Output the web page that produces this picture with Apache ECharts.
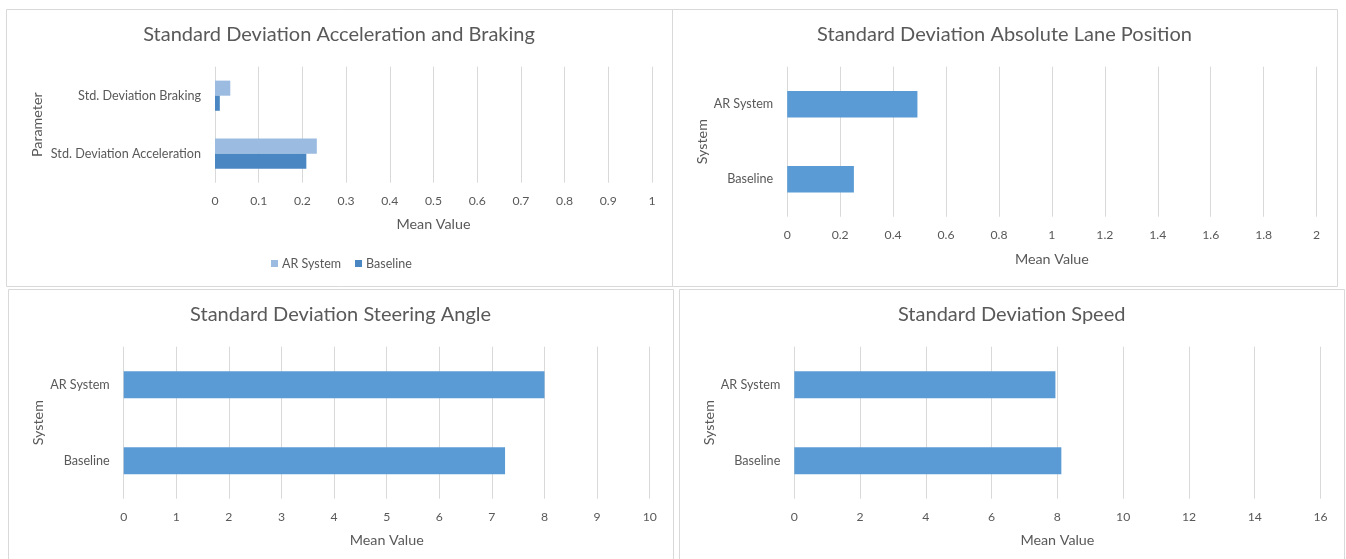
<!DOCTYPE html>
<html>
<head>
<meta charset="utf-8">
<title>Driving performance – standard deviations</title>
<script src="https://cdn.jsdelivr.net/npm/echarts@6/dist/echarts.min.js"></script>
<style>
  html, body { margin: 0; padding: 0; background: #ffffff; }
  #chart { width: 1346px; height: 559px; }
</style>
</head>
<body>
<div id="chart"></div>
<script>
// ---- data ----
const accelCategories = ['Std. Deviation Acceleration', 'Std. Deviation Braking'];
const accelAR = [0.233, 0.035];
const accelBaseline = [0.209, 0.011];

const systemCategories = ['Baseline', 'AR System'];
const lanePosition = [0.252, 0.492];
const steeringAngle = [7.25, 8.0];
const speedDeviation = [8.12, 7.94];

const seriesNames = ['AR System', 'Baseline'];

// ---- styling ----
const FONT = 'Lato, "Liberation Sans", sans-serif';
const TEXT = '#595959';
const LINE = '#d9d9d9';
const BLUE = '#5b9bd5';
const LIGHT_BLUE = '#9bbbe1';
const DARK_BLUE = '#4a86c1';

const chart = echarts.init(document.getElementById('chart'), null, { renderer: 'canvas' });

// panel frames: [x, y, w, h]
const panels = [
  [6.5, 9.5, 666, 277],
  [672.5, 9.5, 665, 277],
  [8.5, 289.5, 665, 300],
  [679.5, 289.5, 665, 300]
];

// plot areas: [left, top, width, height]
const grids = [
  [215, 66.7, 437, 116],
  [787.2, 66.7, 529.4, 150],
  [123.7, 346.7, 526, 152],
  [794.3, 346.7, 526.2, 152]
];

const titles = [
  ['Standard Deviation Acceleration and Braking', 339, 25],
  ['Standard Deviation Absolute Lane Position', 1004.5, 25],
  ['Standard Deviation Steering Angle', 340.6, 305],
  ['Standard Deviation Speed', 1011.7, 305]
];

// value axis ranges: [max, interval]
const ranges = [[1, 0.1], [2, 0.2], [10, 1], [16, 2]];
const xNameGaps = [34.5, 35.5, 34.5, 34.5];
const yNames = ['Parameter', 'System', 'System', 'System'];
const yNameGaps = [171, 78, 78, 78];
const yCats = [accelCategories, systemCategories, systemCategories, systemCategories];

const option = {
  animation: false,
  backgroundColor: '#ffffff',
  textStyle: { fontFamily: FONT, color: TEXT },
  graphic: panels.map(p => ({
    type: 'rect',
    silent: true,
    shape: { x: p[0], y: p[1], width: p[2], height: p[3] },
    style: { fill: 'none', stroke: LINE, lineWidth: 1 }
  })),
  title: titles.map(t => ({
    text: t[0],
    left: t[1],
    top: t[2],
    textAlign: 'center',
    padding: 0,
    textStyle: { fontFamily: FONT, fontSize: 20, fontWeight: 'normal', color: TEXT }
  })),
  legend: {
    data: seriesNames,
    left: 271,
    top: 257,
    padding: 0,
    itemWidth: 7,
    itemHeight: 7,
    itemGap: 14,
    icon: 'rect',
    textStyle: { fontFamily: FONT, fontSize: 12.5, color: TEXT, padding: [0, 0, 0, -1] }
  },
  grid: grids.map(g => ({ left: g[0], top: g[1], width: g[2], height: g[3], containLabel: false })),
  xAxis: ranges.map((r, i) => ({
    type: 'value',
    gridIndex: i,
    min: 0,
    max: r[0],
    interval: r[1],
    name: 'Mean Value',
    nameLocation: 'middle',
    nameGap: xNameGaps[i],
    nameTextStyle: { fontFamily: FONT, fontSize: 14.3, color: TEXT },
    axisLine: { show: false },
    axisTick: { show: false },
    axisLabel: { fontFamily: FONT, fontSize: 12.2, color: TEXT, margin: 12 },
    splitLine: { show: true, lineStyle: { color: LINE, width: 1 } }
  })),
  yAxis: yCats.map((cats, i) => ({
    type: 'category',
    gridIndex: i,
    data: cats,
    name: yNames[i],
    nameLocation: 'middle',
    nameGap: yNameGaps[i],
    nameRotate: 90,
    nameTextStyle: { fontFamily: FONT, fontSize: 14.3, color: TEXT },
    axisLine: { show: false },
    axisTick: { show: false },
    axisLabel: { fontFamily: FONT, fontSize: 12.6, color: TEXT, margin: 14 },
    splitLine: { show: false }
  })),
  series: [
    {
      name: seriesNames[0], type: 'bar', xAxisIndex: 0, yAxisIndex: 0,
      data: accelAR, barGap: '0%', barCategoryGap: '48%',
      itemStyle: { color: LIGHT_BLUE }
    },
    {
      name: seriesNames[1], type: 'bar', xAxisIndex: 0, yAxisIndex: 0,
      data: accelBaseline, barGap: '0%', barCategoryGap: '48%',
      itemStyle: { color: DARK_BLUE }
    },
    {
      name: 'Lane Position', type: 'bar', xAxisIndex: 1, yAxisIndex: 1,
      data: lanePosition, barCategoryGap: '64.5%',
      itemStyle: { color: BLUE }
    },
    {
      name: 'Steering Angle', type: 'bar', xAxisIndex: 2, yAxisIndex: 2,
      data: steeringAngle, barCategoryGap: '64.5%',
      itemStyle: { color: BLUE }
    },
    {
      name: 'Speed', type: 'bar', xAxisIndex: 3, yAxisIndex: 3,
      data: speedDeviation, barCategoryGap: '64.5%',
      itemStyle: { color: BLUE }
    }
  ]
};

chart.setOption(option);
</script>
</body>
</html>
